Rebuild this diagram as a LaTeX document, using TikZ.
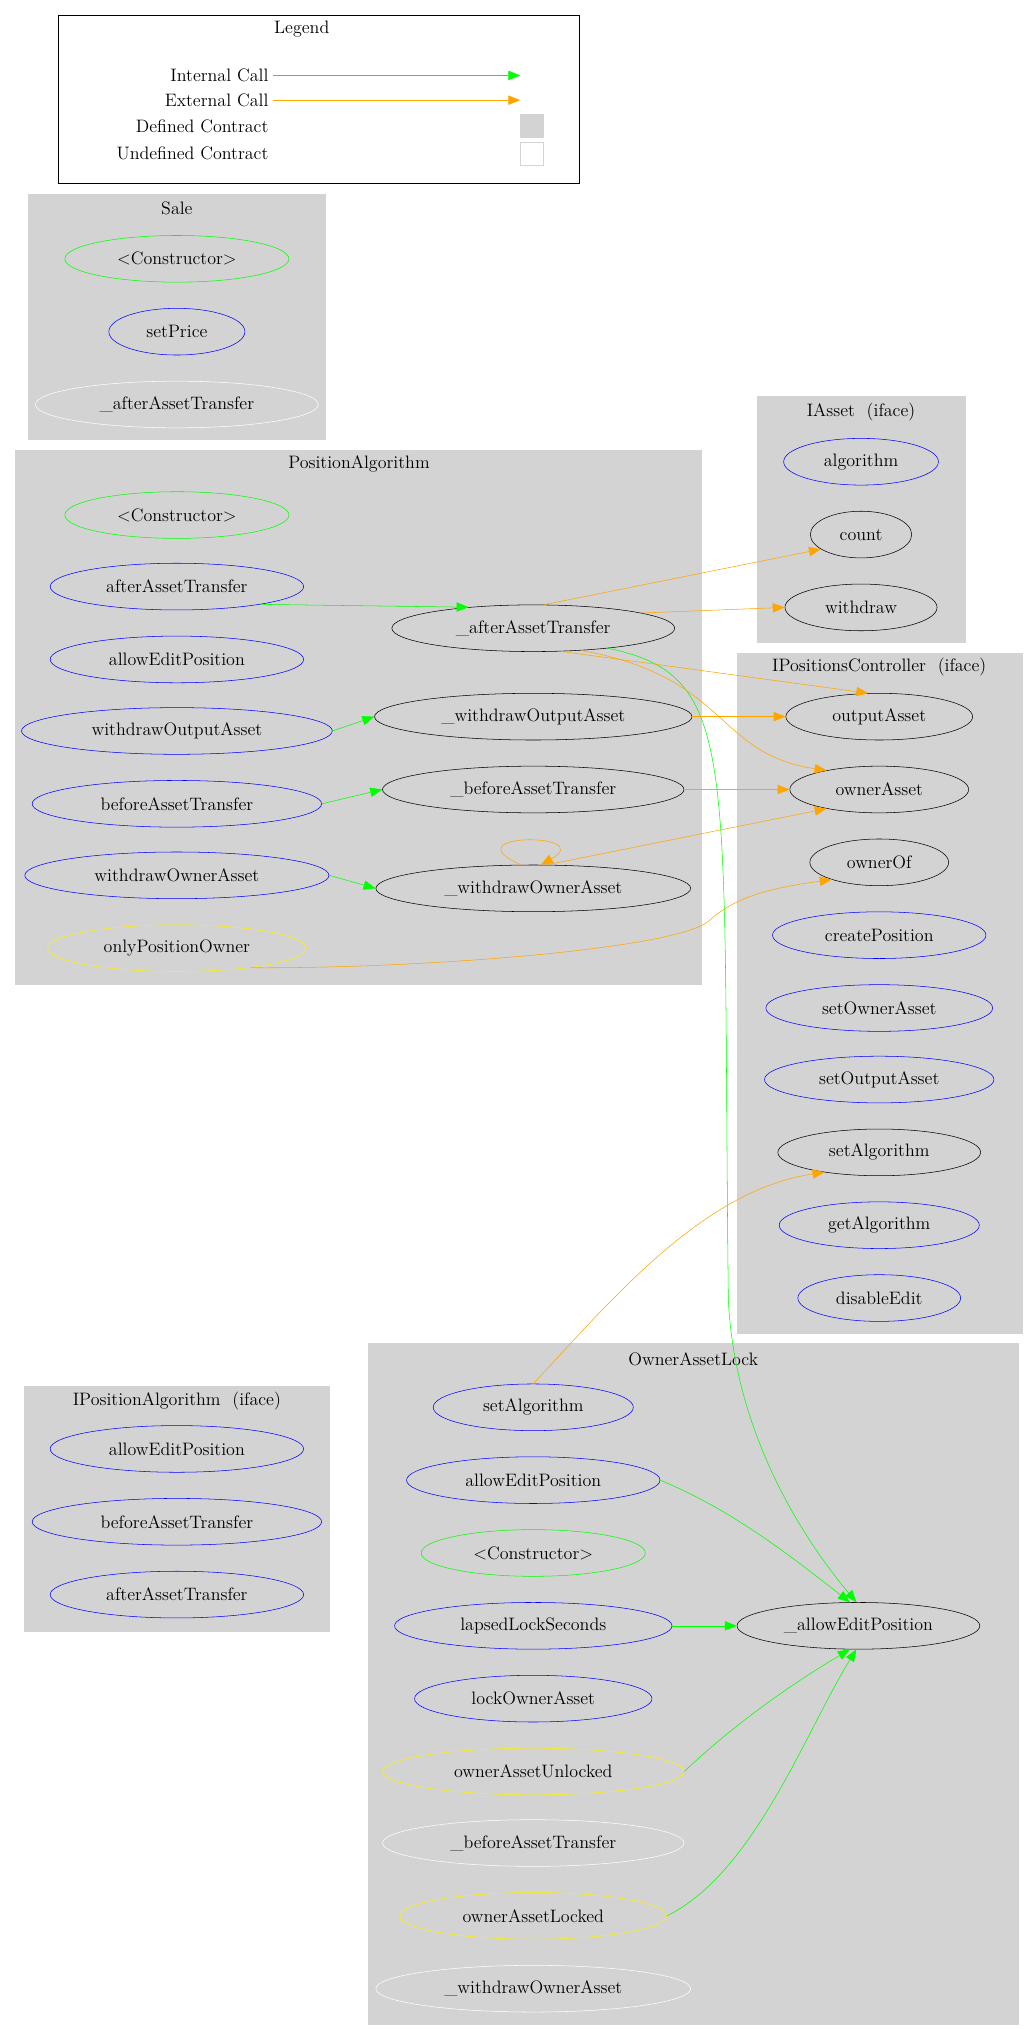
\documentclass[tikz,border=0pt]{standalone}
\usepackage{tikz}
\usetikzlibrary{arrows.meta,shapes.geometric,positioning}
\definecolor{clgray}{RGB}{211,211,211}
\definecolor{callgreen}{RGB}{0,255,0}
\definecolor{callorange}{RGB}{255,165,0}
\tikzstyle{fn}=[draw,ellipse,minimum height=35,inner sep=0pt,font=\fontsize{13.5}{15}\selectfont]
\tikzstyle{pub}=[fn,draw=blue]
\tikzstyle{ctor}=[fn,draw=callgreen]
\tikzstyle{modi}=[fn,draw=yellow]
\tikzstyle{priv}=[fn,draw=white]
\tikzstyle{ext}=[fn,draw=black]
\tikzstyle{cluster}=[fill=clgray,draw=clgray]
\tikzstyle{title}=[font=\fontsize{13.5}{15}\selectfont]
\tikzstyle{intcall}=[callgreen,-{Triangle[length=9pt,width=7pt]}]
\tikzstyle{extcall}=[callorange,-{Triangle[length=9pt,width=7pt]}]
\begin{document}
\begin{tikzpicture}[x=0.975pt,y=-0.975pt]
\fill[white] (0,0) rectangle (792,1560);
\useasboundingbox (0,0) rectangle (792,1560);
% legend
\draw (45,12) rectangle (445,141);
\node[title] (lg) at (232,22) {Legend};
\node[title,anchor=east] (li) at (210,58) {Internal Call};
\node[title,anchor=east] (le) at (210,77) {External Call};
\node[title,anchor=east] (ld) at (210,97) {Defined Contract};
\node[title,anchor=east] (lu) at (210,118) {Undefined Contract};
\coordinate (lie) at (400,58);
\coordinate (lee) at (400,77);
\draw[intcall] (li) -- (lie);
\draw[extcall] (le) -- (lee);
\node[fill=clgray,minimum size=18,inner sep=0pt] (sq1) at (409,97) {};
\node[draw=clgray,fill=white,minimum size=17,inner sep=0pt] (sq2) at (409,118) {};

% Sale
\draw[cluster] (22,149) rectangle (250,338);
\node[title] (saleT) at (136,160) {Sale};
\node[ctor,minimum width=168] (saleC) at (136,199) {<Constructor>};
\node[pub,minimum width=102] (saleP) at (136,255) {setPrice};
\node[priv,minimum width=212] (saleA) at (136,311) {\_afterAssetTransfer};

% PositionAlgorithm
\draw[cluster] (12,346) rectangle (539,757);
\node[title] (paT) at (276,357) {PositionAlgorithm};
\node[ctor,minimum width=168] (paC) at (136,396) {<Constructor>};
\node[pub,minimum width=190] (paAAT) at (136,451) {afterAssetTransfer};
\node[pub,minimum width=190] (paAEP) at (136,507) {allowEditPosition};
\node[pub,minimum width=233] (paWOA) at (136,562) {withdrawOutputAsset};
\node[pub,minimum width=217] (paBAT) at (136,618) {beforeAssetTransfer};
\node[pub,minimum width=228] (paWOW) at (136,673) {withdrawOwnerAsset};
\node[modi,minimum width=194] (paOPO) at (136,729) {onlyPositionOwner};
\node[ext,minimum width=212] (pa_AAT) at (410,483) {\_afterAssetTransfer};
\node[ext,minimum width=238] (pa_WOA) at (410,551) {\_withdrawOutputAsset};
\node[ext,minimum width=226] (pa_BAT) at (410,607) {\_beforeAssetTransfer};
\node[ext,minimum width=236] (pa_WOW) at (410,683) {\_withdrawOwnerAsset};

% IAsset
\draw[cluster] (582,305) rectangle (742,494);
\node[title] (iaT) at (662,317) {IAsset\ \ (iface)};
\node[pub,minimum width=116] (iaAlg) at (662,355) {algorithm};
\node[ext,minimum width=76] (iaCnt) at (662,411) {count};
\node[ext,minimum width=114] (iaWd) at (662,467) {withdraw};

% IPositionsController
\draw[cluster] (567,502) rectangle (786,1025);
\node[title] (ipcT) at (676,513) {IPositionsController\ \ (iface)};
\node[ext,minimum width=140] (ipcOut) at (676,551) {outputAsset};
\node[ext,minimum width=134] (ipcOwn) at (676,607) {ownerAsset};
\node[ext,minimum width=104] (ipcOf) at (676,663) {ownerOf};
\node[pub,minimum width=160] (ipcCP) at (676,719) {createPosition};
\node[pub,minimum width=170] (ipcSOA) at (676,775) {setOwnerAsset};
\node[pub,minimum width=172] (ipcSOut) at (676,830) {setOutputAsset};
\node[ext,minimum width=152] (ipcSA) at (676,886) {setAlgorithm};
\node[pub,minimum width=150] (ipcGA) at (676,942) {getAlgorithm};
\node[pub,minimum width=122] (ipcDE) at (676,998) {disableEdit};

% IPositionAlgorithm
\draw[cluster] (19,1066) rectangle (253,1254);
\node[title] (ipaT) at (136,1077) {IPositionAlgorithm\ \ (iface)};
\node[pub,minimum width=190] (ipaAEP) at (136,1114) {allowEditPosition};
\node[pub,minimum width=217] (ipaBAT) at (136,1170) {beforeAssetTransfer};
\node[pub,minimum width=190] (ipaAAT) at (136,1226) {afterAssetTransfer};

% OwnerAssetLock
\draw[cluster] (283,1033) rectangle (783,1556);
\node[title] (oalT) at (533,1045) {OwnerAssetLock};
\node[pub,minimum width=150] (oalSA) at (410,1082) {setAlgorithm};
\node[pub,minimum width=190] (oalAEP) at (410,1138) {allowEditPosition};
\node[ctor,minimum width=168] (oalC) at (410,1194) {<Constructor>};
\node[pub,minimum width=208] (oalLLS) at (410,1250) {lapsedLockSeconds};
\node[pub,minimum width=178] (oalLOA) at (410,1306) {lockOwnerAsset};
\node[modi,minimum width=226] (oalOAU) at (410,1362) {ownerAssetUnlocked};
\node[priv,minimum width=226] (oalBAT) at (410,1417) {\_beforeAssetTransfer};
\node[modi,minimum width=200] (oalOAL) at (410,1473) {ownerAssetLocked};
\node[priv,minimum width=236] (oalWOW) at (410,1529) {\_withdrawOwnerAsset};
\node[ext,minimum width=182] (oal_AEP) at (660,1250) {\_allowEditPosition};

% internal calls
\draw[intcall] (paAAT.-12) -- (pa_AAT.162);
\draw[intcall] (paWOA.east) -- (pa_WOA.west);
\draw[intcall] (paBAT.east) -- (pa_BAT.west);
\draw[intcall] (paWOW.east) -- (pa_WOW.west);
\draw[intcall] (pa_AAT.-15) .. controls (570,520) and (555,580) .. (560,1000) .. controls (565,1100) and (615,1180) .. (oal_AEP.95);
\draw[intcall] (oalAEP.east) .. controls (560,1160) and (600,1190) .. (oal_AEP.110);
\draw[intcall] (oalLLS.east) -- (oal_AEP.west);
\draw[intcall] (oalOAU.east) .. controls (560,1330) and (600,1300) .. (oal_AEP.-110);
\draw[intcall] (oalOAL.east) .. controls (580,1440) and (620,1330) .. (oal_AEP.-95);

% external calls
\draw[extcall] (pa_AAT.65) -- (iaCnt.200);
\draw[extcall] (pa_AAT.8) -- (iaWd.west);
\draw[extcall] (pa_AAT.-40) -- (ipcOut.115);
\draw[extcall] (pa_AAT.-25) .. controls (560,520) and (550,580) .. (ipcOwn.160);
\draw[extcall] (pa_WOA.east) -- (ipcOut.west);
\draw[extcall] (pa_BAT.east) -- (ipcOwn.west);
\draw[extcall] (pa_WOW.60) -- (ipcOwn.200);
\draw[extcall] (pa_WOW.118) .. controls (345,640) and (460,640) .. (pa_WOW.72);
\draw[extcall] (paOPO.-15) .. controls (320,745) and (520,730) .. (545,708) .. controls (565,690) and (590,683) .. (ipcOf.200);
\draw[extcall] (oalSA.north) .. controls (470,1000) and (540,915) .. (ipcSA.200);
\end{tikzpicture}
\end{document}
